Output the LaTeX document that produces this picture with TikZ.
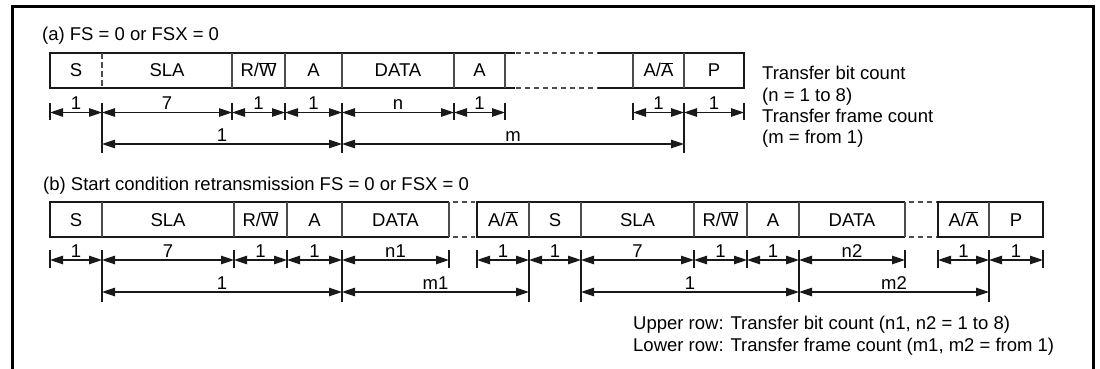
\documentclass[tikz,border=0pt]{standalone}
\usepackage{fontspec}
\setmainfont{Liberation Sans}
\usetikzlibrary{arrows.meta}
\newcommand\ovl[1]{$\overline{\hbox{#1}}$}
\begin{document}
\begin{tikzpicture}[x=1pt,y=-1pt,
  thickline/.style={line width=2.9pt, draw=black!90, line join=miter},
  thinline/.style={line width=1.3pt, draw=black!70},
  thindash/.style={line width=1.3pt, draw=black!70, dash pattern=on 6pt off 3pt},
  gapline/.style={line width=1.5pt, draw=black!70, dash pattern=on 5pt off 4pt},
  dimline/.style={line width=1.2pt, draw=black!90, {Triangle[length=13pt,width=8.5pt]}-{Triangle[length=13pt,width=8.5pt]}},
  tickline/.style={line width=1.2pt, draw=black!90},
  lbl/.style={font=\fontsize{18.5}{21}\selectfont, inner sep=0pt, text=black},
  cell/.style={lbl, anchor=base},
  dimlbl/.style={lbl, anchor=base, yshift=3pt},
  note/.style={lbl, anchor=base west},
]
\useasboundingbox (0,0) rectangle (1100,369);
% outer frame
\draw[line width=3pt, black] (12,380) -- (12,7) -- (1093,7) -- (1093,380);

% ---------------- (a) ----------------
\node[note] (ta) at (42,41) {(a) FS = 0 or FSX = 0};
\draw[thickline] (515,53) -- (50,53) -- (50,88) -- (515,88);
\draw[thindash] (102,53) -- (102,88);
\foreach \x in {232,285,342,454,505} \draw[thinline] (\x,53) -- (\x,88);
\draw[gapline] (516,53) -- (598,53);
\draw[gapline] (516,88) -- (598,88);
\draw[thickline] (598,53) -- (744,53) -- (744,88) -- (598,88);
\foreach \x in {633,684} \draw[thinline] (\x,53) -- (\x,88);

\node[cell] (aS) at (76,77) {S};
\node[cell] (aSLA) at (167,77) {SLA};
\node[cell] (aRW) at (258.5,77) {R/\ovl{W}};
\node[cell] (aA1) at (313.5,77) {A};
\node[cell] (aDATA) at (398,77) {DATA};
\node[cell] (aA2) at (479.5,77) {A};
\node[cell] (aAA) at (658.5,77) {A/\ovl{A}};
\node[cell] (aP) at (714,77) {P};

\foreach \n/\x in {0/50,1/102,2/232,3/285,4/342,5/454,6/505,7/633,8/684,9/744}{
  \coordinate (A\n) at (\x,112.5);
  \draw[tickline] (\x,103) -- (\x,120);
}
\foreach \n/\x in {1/102,4/342,8/684}{
  \coordinate (B\n) at (\x,144);
  \draw[tickline] (\x,103) -- (\x,153);
}
\draw[dimline] (A0) -- (A1) node[dimlbl, midway] {1};
\draw[dimline] (A1) -- (A2) node[dimlbl, midway] {7};
\draw[dimline] (A2) -- (A3) node[dimlbl, midway] {1};
\draw[dimline] (A3) -- (A4) node[dimlbl, midway] {1};
\draw[dimline] (A4) -- (A5) node[dimlbl, midway] {n};
\draw[dimline] (A5) -- (A6) node[dimlbl, midway] {1};
\draw[dimline] (A7) -- (A8) node[dimlbl, midway] {1};
\draw[dimline] (A8) -- (A9) node[dimlbl, midway] {1};
\draw[dimline] (B1) -- (B4) node[dimlbl, midway] {1};
\draw[dimline] (B4) -- (B8) node[dimlbl, midway] {m};

\node[note] (na1) at (762,80) {Transfer bit count};
\node[note] (na2) at (762,101) {(n = 1 to 8)};
\node[note] (na3) at (762,122) {Transfer frame count};
\node[note] (na4) at (762,143) {(m = from 1)};

% ---------------- (b) ----------------
\node[note] (tb) at (43,190) {(b) Start condition retransmission FS = 0 or FSX = 0};
\draw[thickline] (449,202) -- (50,202) -- (50,237) -- (449,237);
\foreach \x in {102,234,287,342,449} \draw[thinline] (\x,202) -- (\x,237);
\draw[gapline] (453,202) -- (475,202);
\draw[gapline] (453,237) -- (475,237);
\draw[thickline] (905,202) -- (477,202) -- (477,237) -- (905,237);
\foreach \x in {529,581,694,747,799,905} \draw[thinline] (\x,202) -- (\x,237);
\draw[gapline] (909,202) -- (937,202);
\draw[gapline] (909,237) -- (937,237);
\draw[thickline] (938,202) rectangle (1043,237);
\draw[thinline] (989,202) -- (989,237);

\node[cell] (bS) at (76,226) {S};
\node[cell] (bSLA) at (168,226) {SLA};
\node[cell] (bRW) at (260.5,226) {R/\ovl{W}};
\node[cell] (bA1) at (314.5,226) {A};
\node[cell] (bDATA) at (395.5,226) {DATA};
\node[cell] (bAA1) at (503,226) {A/\ovl{A}};
\node[cell] (bS2) at (555,226) {S};
\node[cell] (bSLA2) at (637.5,226) {SLA};
\node[cell] (bRW2) at (720.5,226) {R/\ovl{W}};
\node[cell] (bA2) at (773,226) {A};
\node[cell] (bDATA2) at (852,226) {DATA};
\node[cell] (bAA2) at (963.5,226) {A/\ovl{A}};
\node[cell] (bP) at (1016,226) {P};

\foreach \n/\x in {0/50,1/102,2/234,3/287,4/342,5/449,6/477,7/529,8/581,9/694,10/747,11/799,12/905,13/938,14/989,15/1043}{
  \coordinate (C\n) at (\x,260);
  \draw[tickline] (\x,250) -- (\x,268);
}
\foreach \n/\x in {1/102,4/342,7/529,8/581,11/799,14/989}{
  \coordinate (D\n) at (\x,292);
  \draw[tickline] (\x,250) -- (\x,302);
}
\draw[dimline] (C0) -- (C1) node[dimlbl, midway] {1};
\draw[dimline] (C1) -- (C2) node[dimlbl, midway] {7};
\draw[dimline] (C2) -- (C3) node[dimlbl, midway] {1};
\draw[dimline] (C3) -- (C4) node[dimlbl, midway] {1};
\draw[dimline] (C4) -- (C5) node[dimlbl, midway] {n1};
\draw[dimline] (C6) -- (C7) node[dimlbl, midway] {1};
\draw[dimline] (C7) -- (C8) node[dimlbl, midway] {1};
\draw[dimline] (C8) -- (C9) node[dimlbl, midway] {7};
\draw[dimline] (C9) -- (C10) node[dimlbl, midway] {1};
\draw[dimline] (C10) -- (C11) node[dimlbl, midway] {1};
\draw[dimline] (C11) -- (C12) node[dimlbl, midway] {n2};
\draw[dimline] (C13) -- (C14) node[dimlbl, midway] {1};
\draw[dimline] (C14) -- (C15) node[dimlbl, midway] {1};
\draw[dimline] (D1) -- (D4) node[dimlbl, midway] {1};
\draw[dimline] (D4) -- (D7) node[dimlbl, midway] {m1};
\draw[dimline] (D8) -- (D11) node[dimlbl, midway] {1};
\draw[dimline] (D11) -- (D14) node[dimlbl, midway] {m2};

\node[note] (nb1) at (633,329) {Upper row: Transfer bit count (n1, n2 = 1 to 8)};
\node[note] (nb2) at (633,351.5) {Lower row: Transfer frame count (m1, m2 = from 1)};
\end{tikzpicture}
\end{document}
